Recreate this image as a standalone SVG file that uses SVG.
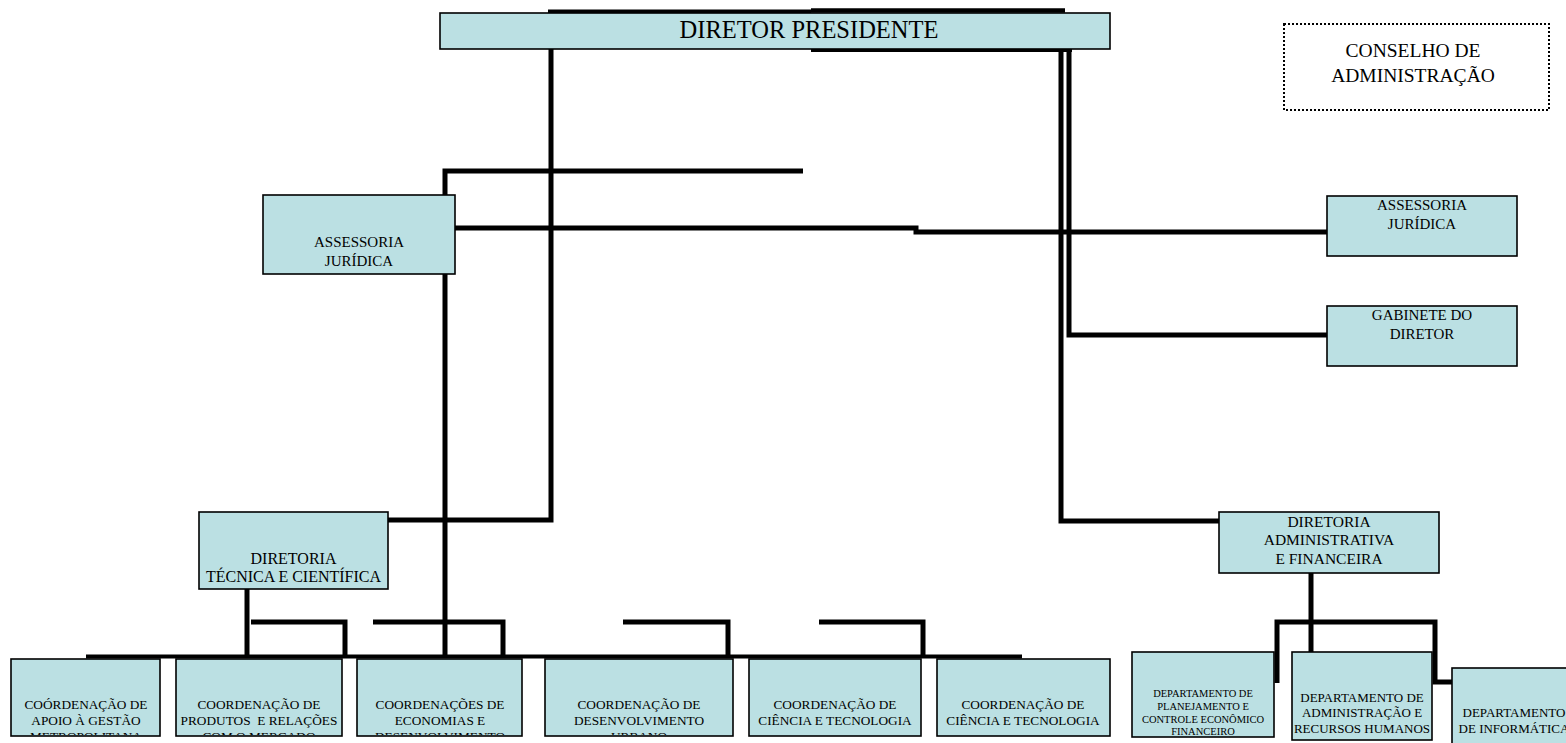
<svg xmlns="http://www.w3.org/2000/svg" width="1566" height="743" viewBox="0 0 1566 743">
<style>
.node{fill:#bbe0e3;stroke:#000;stroke-width:1.6}
.c{fill:none;stroke:#000;stroke-width:5;stroke-linejoin:miter;stroke-linecap:butt}
.t{font-family:"Liberation Serif","Times New Roman",serif;fill:#000;text-anchor:middle}
.s13{font-size:13.3px}
.s15{font-size:15px}
</style>
<defs>
<clipPath id="rowclip"><rect x="0" y="0" width="1566" height="735"/></clipPath>
</defs>
<rect x="0" y="0" width="1566" height="743" fill="#fff"/>
<g id="connectors">
<path class="c" style="stroke-width:4" d="M548,11.5 H811"/>
<path class="c" style="stroke-width:4.5" d="M811,10.5 H1065"/>
<path class="c" style="stroke-width:4" d="M811,50 H1072"/>
<path class="c" d="M551,48 V520 H388"/>
<path class="c" d="M803,171 H445 V658"/>
<path class="c" d="M455,228 H916 V232 H1328"/>
<path class="c" d="M1061,48 V521 H1219"/>
<path class="c" d="M1069,48 V335 H1328"/>
<path class="c" d="M247,589 V657"/>
<path class="c" d="M251,622 H345 V657"/>
<path class="c" d="M373,622 H503 V657"/>
<path class="c" d="M623,622 H728 V657"/>
<path class="c" d="M819,622 H923 V657"/>
<path class="c" style="stroke-width:4" d="M86,656.5 H1022"/>
<path class="c" d="M1311,573 V652"/>
<path class="c" d="M1277,683 V622 H1435 V682 H1452"/>
</g>
<g id="diretor-presidente">
<rect class="node" x="440" y="13" width="670" height="36"/>
<text class="t" x="809" y="38" style="font-size:24.5px">DIRETOR PRESIDENTE</text>
</g>
<g id="conselho">
<rect x="1284" y="24" width="265" height="86" fill="none" stroke="#000" stroke-width="2" stroke-dasharray="2 2"/>
<text class="t" x="1413" y="56.5" style="font-size:19.5px">CONSELHO DE</text>
<text class="t" x="1413" y="81.5" style="font-size:19.5px">ADMINISTRAÇÃO</text>
</g>
<g id="assessoria-esq">
<rect class="node" x="263" y="195" width="192" height="79"/>
<text class="t s15" x="359" y="247">ASSESSORIA</text>
<text class="t s15" x="359" y="266">JURÍDICA</text>
</g>
<g id="assessoria-dir">
<rect class="node" x="1327" y="196" width="190" height="60"/>
<text class="t s15" x="1422" y="210">ASSESSORIA</text>
<text class="t s15" x="1422" y="229">JURÍDICA</text>
</g>
<g id="gabinete">
<rect class="node" x="1327" y="306" width="190" height="60"/>
<text class="t s15" x="1422" y="320">GABINETE DO</text>
<text class="t s15" x="1422" y="339">DIRETOR</text>
</g>
<g id="diretoria-tecnica">
<rect class="node" x="199" y="512" width="189" height="77"/>
<text class="t" x="293.5" y="564" style="font-size:16px">DIRETORIA</text>
<text class="t" x="293.5" y="582" style="font-size:16px">TÉCNICA E CIENTÍFICA</text>
</g>
<g id="diretoria-adm">
<rect class="node" x="1219" y="512" width="220" height="61"/>
<text class="t" x="1329" y="527" style="font-size:15.5px">DIRETORIA</text>
<text class="t" x="1329" y="545" style="font-size:15.5px">ADMINISTRATIVA</text>
<text class="t" x="1329" y="564" style="font-size:15.5px">E FINANCEIRA</text>
</g>
<g id="coord-apoio">
<rect class="node" x="11" y="659" width="149" height="77"/>
<g clip-path="url(#rowclip)" class="t s13">
<text x="86" y="709">COÓRDENAÇÃO DE</text>
<text x="86" y="725">APOIO À GESTÃO</text>
<text x="86" y="741">METROPOLITANA</text>
</g>
</g>
<g id="coord-produtos">
<rect class="node" x="176" y="659" width="166" height="77"/>
<g clip-path="url(#rowclip)" class="t s13">
<text x="259" y="709">COORDENAÇÃO DE</text>
<text x="259" y="725" xml:space="preserve">PRODUTOS  E RELAÇÕES</text>
<text x="259" y="741">COM O MERCADO</text>
</g>
</g>
<g id="coord-economias">
<rect class="node" x="357" y="659" width="165" height="77"/>
<g clip-path="url(#rowclip)" class="t s13">
<text x="440" y="709">COORDENAÇÕES DE</text>
<text x="440" y="725">ECONOMIAS E</text>
<text x="440" y="741">DESENVOLVIMENTO</text>
</g>
</g>
<g id="coord-urbano">
<rect class="node" x="545" y="659" width="188" height="77"/>
<g clip-path="url(#rowclip)" class="t s13">
<text x="639" y="709">COORDENAÇÃO DE</text>
<text x="639" y="725">DESENVOLVIMENTO</text>
<text x="639" y="741">URBANO</text>
</g>
</g>
<g id="coord-ciencia-1">
<rect class="node" x="749" y="659" width="172" height="77"/>
<text class="t s13" x="835" y="709">COORDENAÇÃO DE</text>
<text class="t s13" x="835" y="725">CIÊNCIA E TECNOLOGIA</text>
</g>
<g id="coord-ciencia-2">
<rect class="node" x="937" y="659" width="173" height="77"/>
<text class="t s13" x="1023" y="709">COORDENAÇÃO DE</text>
<text class="t s13" x="1023" y="725">CIÊNCIA E TECNOLOGIA</text>
</g>
<g id="dep-planejamento">
<rect class="node" x="1132" y="652" width="142" height="85"/>
<text class="t" x="1203" y="696.5" style="font-size:10.5px">DEPARTAMENTO DE</text>
<text class="t" x="1203" y="709.5" style="font-size:10.5px">PLANEJAMENTO E</text>
<text class="t" x="1203" y="722.5" style="font-size:10.5px">CONTROLE ECONÔMICO</text>
<text class="t" x="1203" y="735" style="font-size:10.5px">FINANCEIRO</text>
</g>
<g id="dep-administracao">
<rect class="node" x="1292" y="652" width="140" height="88"/>
<text class="t" x="1362" y="701.5" style="font-size:13px">DEPARTAMENTO DE</text>
<text class="t" x="1362" y="716.5" style="font-size:13px">ADMINISTRAÇÃO E</text>
<text class="t" x="1362" y="732.5" style="font-size:13px">RECURSOS HUMANOS</text>
</g>
<g id="dep-informatica">
<rect class="node" x="1452" y="668" width="124" height="90"/>
<text class="t" x="1514" y="716.5" style="font-size:13px">DEPARTAMENTO</text>
<text class="t" x="1514" y="732.5" style="font-size:13px">DE INFORMÁTICA</text>
</g>
</svg>
